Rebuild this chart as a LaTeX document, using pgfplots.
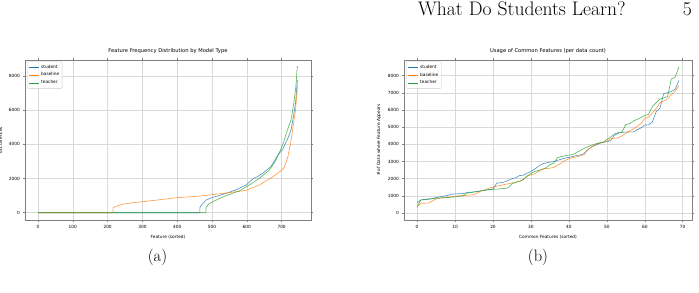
\documentclass[border=0pt]{standalone}
\usepackage{fontspec}
\usepackage{pgfplots}
\pgfplotsset{compat=1.18}
\newfontfamily\dejavu{DejaVu Sans}
\definecolor{tabblue}{HTML}{1F77B4}
\definecolor{taborange}{HTML}{FF7F0E}
\definecolor{tabgreen}{HTML}{2CA02C}
\newcommand{\tickfont}{\dejavu\fontsize{4.3bp}{5bp}\selectfont}
\newcommand{\titlefont}{\dejavu\fontsize{5.2bp}{6bp}\selectfont}
\pgfplotsset{mplstyle/.style={
  scale only axis,
  axis line style={black!50, line width=0.6bp},
  grid=major, grid style={black!15, line width=0.5bp},
  tick align=outside, major tick length=1.6bp,
  tick style={black!50, line width=0.5bp},
  ticklabel style={font=\tickfont},
  /pgf/number format/assume math mode=true,
  /pgf/number format/1000 sep={},
  scaled ticks=false,
  label style={font=\tickfont},
  title style={font=\titlefont, yshift=-3bp},
  legend style={at={(0.008,0.99)}, anchor=north west, font=\tickfont,
    draw=black!20, rounded corners=1bp, inner sep=1bp, row sep=-0.8bp,
    fill=white, fill opacity=0.8, text opacity=1},
  legend cell align=left,
  legend image code/.code={\draw[#1, opacity=1, line width=0.7bp] (0bp,0bp) -- (10bp,0bp);},
  every axis plot/.append style={line width=0.6bp, opacity=0.8, mark=none},
}}
\begin{document}
\begin{tikzpicture}
\useasboundingbox (0bp,0bp) rectangle (699bp,293bp);
\node[anchor=base west, font=\fontsize{19.6bp}{21bp}\selectfont, inner sep=0] at (418bp,277bp) {What Do Students Learn?};
\node[anchor=base east, font=\fontsize{19.6bp}{21bp}\selectfont, inner sep=0] at (692bp,277bp) {5};
\node[anchor=base, font=\fontsize{16.5bp}{18bp}\selectfont, inner sep=0] at (157.5bp,32bp) {(a)};
\node[anchor=base, font=\fontsize{16.5bp}{18bp}\selectfont, inner sep=0] at (538bp,32bp) {(b)};

\begin{axis}[mplstyle, at={(25bp,73bp)}, anchor=south west, width=286bp, height=160bp,
  xmin=-37.4, xmax=784.4, ymin=-425, ymax=8925,
  xtick={0,100,...,700}, ytick={0,2000,...,8000},
  title={Feature Frequency Distribution by Model Type},
  xlabel={Feature (sorted)}, ylabel={occurrences}]
\addplot[tabblue] coordinates {(0,0) (465,0) (465,300) (470,450) (483,740) (502,900) (520,1000) (540,1135) (568,1330) (598,1620) (617,1970) (630,2100) (645,2300) (669,2690) (689,3370) (703,3700) (718,4350) (727,4840) (733,5520) (740,6400) (745,7670) (747,7750)};
\addlegendentry{student}
\addplot[taborange] coordinates {(0,0) (215,0) (216,290) (225,380) (244,500) (270,580) (301,645) (350,760) (401,880) (450,950) (483,1015) (549,1170) (598,1310) (636,1620) (675,2110) (695,2400) (706,2600) (712,2900) (718,3280) (726,4060) (733,5030) (740,6010) (745,7280) (747,7400)};
\addlegendentry{baseline}
\addplot[tabgreen] coordinates {(0,0) (482,0) (483,300) (490,500) (502,645) (540,1000) (578,1270) (607,1620) (636,2010) (665,2500) (684,3080) (703,3960) (715,4740) (727,5420) (735,6400) (741,7370) (745,8540) (746,8500)};
\addlegendentry{teacher}
\end{axis}

\begin{axis}[mplstyle, at={(404bp,73bp)}, anchor=south west, width=288bp, height=160bp,
  xmin=-3.45, xmax=72.45, ymin=-407.5, ymax=8907.5,
  xtick={0,10,...,70}, ytick={0,1000,...,8000},
  title={Usage of Common Features (per data count)},
  xlabel={Common Features (sorted)}, ylabel={\# of Data where Feature Appears}]
\addplot[tabblue] table {
x y
0 610
1 760
2 780
3 800
4 830
5 900
6 940
7 980
8 1020
9 1090
10 1110
11 1120
12 1130
13 1180
14 1210
15 1230
16 1260
17 1300
18 1330
19 1360
20 1400
21 1740
22 1760
23 1800
24 1900
25 2000
26 2050
27 2180
28 2200
29 2320
30 2420
31 2560
32 2720
33 2860
34 2920
35 2960
36 2990
37 3070
38 3130
39 3200
40 3240
41 3290
42 3340
43 3380
44 3460
45 3700
46 3850
47 3940
48 4050
49 4110
50 4160
51 4200
52 4520
53 4640
54 4700
55 4710
56 4720
57 4720
58 4850
59 4950
60 5120
61 5130
62 5300
63 5900
64 6100
65 6950
66 7000
67 7080
68 7200
69 7720
};
\addlegendentry{student}
\addplot[taborange] table {
x y
0 370
1 560
2 570
3 580
4 700
5 820
6 860
7 880
8 920
9 950
10 980
11 1000
12 1010
13 1030
14 1050
15 1070
16 1180
17 1300
18 1360
19 1450
20 1500
21 1560
22 1600
23 1660
24 1700
25 1750
26 1800
27 1840
28 1950
29 2150
30 2220
31 2280
32 2420
33 2570
34 2590
35 2610
36 2650
37 2780
38 2900
39 3060
40 3160
41 3220
42 3270
43 3330
44 3400
45 3680
46 3850
47 3980
48 4080
49 4120
50 4160
51 4320
52 4350
53 4370
54 4500
55 4640
56 4780
57 4900
58 5050
59 5200
60 5520
61 5580
62 5830
63 6080
64 6420
65 6520
66 6640
67 6900
68 7080
69 7420
};
\addlegendentry{baseline}
\addplot[tabgreen] table {
x y
0 370
1 760
2 800
3 820
4 840
5 860
6 880
7 890
8 900
9 920
10 940
11 970
12 1000
13 1150
14 1180
15 1220
16 1250
17 1290
18 1330
19 1360
20 1380
21 1390
22 1410
23 1430
24 1460
25 1700
26 1780
27 1850
28 1950
29 2150
30 2300
31 2420
32 2480
33 2520
34 2650
35 2800
36 2900
37 3220
38 3280
39 3330
40 3370
41 3400
42 3520
43 3640
44 3760
45 3860
46 3950
47 4020
48 4080
49 4110
50 4280
51 4420
52 4600
53 4680
54 4710
55 5150
56 5200
57 5350
58 5450
59 5560
60 5680
61 5740
62 6200
63 6420
64 6640
65 6700
66 6780
67 7800
68 7900
69 8500
};
\addlegendentry{teacher}
\end{axis}
\end{tikzpicture}
\end{document}
